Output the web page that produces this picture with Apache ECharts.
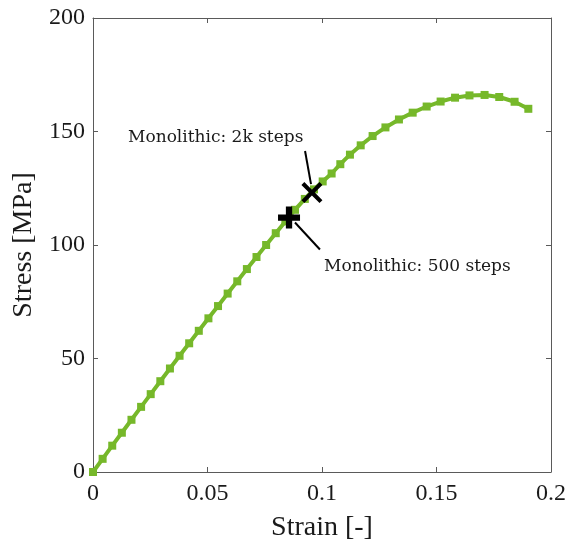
<!DOCTYPE html>
<html><head><meta charset="utf-8">
<script src="https://cdn.jsdelivr.net/npm/echarts@6/dist/echarts.min.js"></script>
<style>html,body{margin:0;padding:0;background:#fff}#c{width:569px;height:547px}</style>
</head><body><div id="c"></div>
<script>
const strain = [0,0.0042,0.0084,0.0126,0.0168,0.0210,0.0252,0.0294,0.0336,0.0378,0.0420,0.0462,0.0504,0.0546,0.0588,0.0630,0.0672,0.0714,0.0756,0.0798,0.0840,0.0882,0.0925,0.0965,0.1003,0.1042,0.1080,0.1122,0.1169,0.1221,0.1277,0.1336,0.1396,0.1457,0.1518,0.1581,0.1644,0.1710,0.1774,0.1841,0.1901];
const stress = [0,5.8,11.6,17.3,23.0,28.7,34.3,40.0,45.6,51.2,56.7,62.2,67.7,73.1,78.6,84.0,89.4,94.7,100.0,105.2,110.4,115.5,120.3,124.5,128.0,131.5,135.6,139.8,143.9,148.0,151.8,155.3,158.3,161.0,163.2,164.9,165.9,166.1,165.2,163.1,160.0];
const xTicks = [0,0.05,0.1,0.15,0.2];
const yTicks = [0,50,100,150,200];
const mark500 = [0.0856,112.1];
const mark2k = [0.0956,123.1];
const leader2k = [[0.0926,141.4],[0.0952,126.8]];
const leader500 = [[0.0882,109.9],[0.0991,98.0]];
const label2k = {text:'Monolithic: 2k steps', at:[0.0153,147.3]};
const label500 = {text:'Monolithic: 500 steps', at:[0.1009,90.5]};

const green = '#76b82a';
const frame = '#5a5a5a';
const serif = '"Liberation Serif","DejaVu Serif",serif';
const annFont = '"DejaVu Serif","Liberation Serif",serif';
const plusPath = 'path://M-1,-3.5L1,-3.5L1,-1L3.5,-1L3.5,1L1,1L1,3.5L-1,3.5L-1,1L-3.5,1L-3.5,-1L-1,-1Z';
const crossPath = 'path://M-2.6,-3.6L0,-1L2.6,-3.6L3.6,-2.6L1,0L3.6,2.6L2.6,3.6L0,1L-2.6,3.6L-3.6,2.6L-1,0L-3.6,-2.6Z';

const chart = echarts.init(document.getElementById('c'), null, {renderer:'canvas'});
const axBase = (pos, show) => ({
  type:'value', position: pos,
  axisLine:{show:true, onZero:false, lineStyle:{color:frame, width:1}},
  axisTick:{show:true, inside:true, length:5, lineStyle:{color:frame}},
  splitLine:{show:false},
  axisLabel:{show:show, color:'#1a1a1a', fontFamily:serif, fontSize:24, margin:8}
});
chart.setOption({
  animation:false,
  grid:{left:93, top:18, width:458, height:455, containLabel:false},
  xAxis:[
    Object.assign(axBase('bottom', true), {min:xTicks[0], max:xTicks[xTicks.length-1], interval:0.05,
      name:'Strain [-]', nameLocation:'middle', nameGap:42,
      nameTextStyle:{fontFamily:serif, fontSize:28, color:'#1a1a1a'},
      axisLabel:{color:'#1a1a1a', fontFamily:serif, fontSize:24, margin:10, formatter:v=>String(v)}}),
    Object.assign(axBase('top', false), {min:xTicks[0], max:xTicks[xTicks.length-1], interval:0.05})
  ],
  yAxis:[
    Object.assign(axBase('left', true), {min:yTicks[0], max:yTicks[yTicks.length-1], interval:50,
      name:'Stress [MPa]', nameLocation:'middle', nameGap:52,
      nameTextStyle:{fontFamily:serif, fontSize:28, color:'#1a1a1a'}}),
    Object.assign(axBase('right', false), {min:yTicks[0], max:yTicks[yTicks.length-1], interval:50})
  ],
  series:[
    {type:'line', data: strain.map((s,i)=>[s,stress[i]]), symbol:'rect', symbolSize:8, showSymbol:true,
     itemStyle:{color:green, opacity:1}, lineStyle:{color:green, width:4}, z:2},
    {type:'line', data: leader2k, symbol:'none', lineStyle:{color:'#000', width:2}, z:3},
    {type:'line', data: leader500, symbol:'none', lineStyle:{color:'#000', width:2}, z:3},
    {type:'scatter', data:[mark500], symbol:plusPath, symbolSize:22, itemStyle:{color:'#000', opacity:1}, z:4},
    {type:'scatter', data:[mark2k], symbol:crossPath, symbolSize:21, itemStyle:{color:'#000', opacity:1}, z:4},
    {type:'scatter', symbolSize:0, z:5, itemStyle:{opacity:1},
     data:[{value:label2k.at, name:label2k.text},{value:label500.at, name:label500.text}],
     label:{show:true, position:'right', distance:0, formatter:p=>p.name,
       fontFamily:annFont, fontSize:17, color:'#1a1a1a'}}
  ]
});
</script></body></html>
